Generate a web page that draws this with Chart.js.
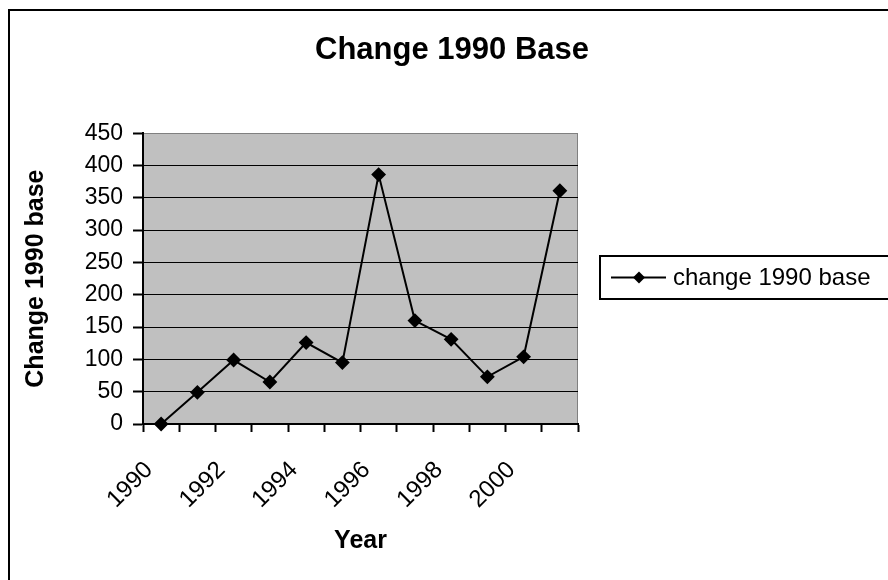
<!DOCTYPE html>
<html>
<head>
<meta charset="utf-8">
<script src="https://cdn.jsdelivr.net/npm/chart.js"></script>
<style>
  html, body { margin: 0; padding: 0; background: #fff; }
  #wrap { width: 888px; height: 580px; }
</style>
</head>
<body>
<div id="wrap"><canvas id="grafico" width="888" height="580"></canvas></div>
<script>
const years = ["1990", "1991", "1992", "1993", "1994", "1995", "1996", "1997", "1998", "1999", "2000", "2001"];
const change = [0, 49, 99, 65, 126, 95, 386, 160, 131, 73, 104, 361];
const yTicks = [0, 50, 100, 150, 200, 250, 300, 350, 400, 450];
const serieName = "change 1990 base";

const FONT = "'Liberation Sans', Arial, sans-serif";
Chart.defaults.font.family = FONT;
Chart.defaults.color = "#000";

// fondo gris del area de trazado + marco exterior
const fondo = {
  id: "fondo",
  beforeDraw(chart) {
    const { ctx, chartArea: a } = chart;
    ctx.save();
    ctx.fillStyle = "#fff";
    ctx.fillRect(0, 0, chart.width, chart.height);
    ctx.strokeStyle = "#000";
    ctx.lineWidth = 2;
    ctx.strokeRect(9, 10, 900, 600);
    ctx.fillStyle = "#c0c0c0";
    ctx.fillRect(a.left, a.top, a.right - a.left, a.bottom - a.top);
    ctx.strokeStyle = "#808080";
    ctx.lineWidth = 1;
    ctx.beginPath();
    ctx.moveTo(a.right - 0.5, a.top);
    ctx.lineTo(a.right - 0.5, a.bottom);
    ctx.stroke();
    ctx.restore();
  },
};

// leyenda estilo Excel (linea + rombo, con recuadro)
const leyenda = {
  id: "leyenda",
  afterDraw(chart) {
    const { ctx } = chart;
    const x = 600, y = 256, h = 43;
    ctx.save();
    ctx.strokeStyle = "#000";
    ctx.lineWidth = 2;
    ctx.strokeRect(x, y, 300, h);
    const cy = y + h / 2;
    ctx.beginPath();
    ctx.moveTo(x + 11, cy);
    ctx.lineTo(x + 66, cy);
    ctx.stroke();
    ctx.fillStyle = "#000";
    ctx.beginPath();
    ctx.moveTo(x + 39, cy - 6);
    ctx.lineTo(x + 45, cy);
    ctx.lineTo(x + 39, cy + 6);
    ctx.lineTo(x + 33, cy);
    ctx.closePath();
    ctx.fill();
    ctx.font = "24px " + FONT;
    ctx.textBaseline = "middle";
    ctx.textAlign = "left";
    ctx.fillText(chart.data.datasets[0].label, x + 73, cy + 1);
    ctx.restore();
  },
};

new Chart(document.getElementById("grafico"), {
  type: "line",
  data: {
    labels: years,
    datasets: [
      {
        label: serieName,
        data: change,
        borderColor: "#000",
        backgroundColor: "#000",
        borderWidth: 2,
        pointStyle: "rectRot",
        pointRadius: 6,
        pointHoverRadius: 6,
        pointBackgroundColor: "#000",
        pointBorderColor: "#000",
        tension: 0,
        clip: false,
        yAxisID: "y",
      },
    ],
  },
  options: {
    responsive: false,
    animation: false,
    layout: { padding: { left: 16, right: 0, top: 0, bottom: 0 } },
    plugins: {
      legend: { display: false },
      tooltip: { enabled: false },
      title: {
        display: true,
        text: "Change 1990 Base",
        color: "#000",
        font: { size: 31, weight: "bold", family: FONT },
        padding: { top: 32, bottom: 64 },
      },
    },
    scales: {
      x: {
        type: "category",
        offset: true,
        grid: {
          offset: true,
          drawOnChartArea: false,
          drawTicks: true,
          tickLength: 8,
          tickWidth: 2,
          tickColor: "#000",
          color: "#000",
        },
        border: { display: true, color: "#000", width: 2 },
        ticks: {
          autoSkip: false,
          minRotation: 45,
          maxRotation: 45,
          padding: 24,
          labelOffset: -12,
          font: { size: 24 },
          color: "#000",
          callback: (v, i) => (i % 2 === 0 ? years[i] : ""),
        },
        title: {
          display: true,
          text: "Year",
          color: "#000",
          font: { size: 25, weight: "bold" },
          padding: { top: 0, bottom: 24 },
        },
        afterFit(scale) {
          scale.height = 156;
        },
      },
      y: {
        min: 0,
        max: 450,
        afterBuildTicks(scale) {
          scale.ticks = yTicks.map((v) => ({ value: v }));
        },
        grid: {
          drawTicks: true,
          tickLength: 10,
          tickWidth: 2,
          tickColor: "#000",
          lineWidth: 1,
          color: (c) => (c.tick && c.tick.value === 450 ? "#808080" : "#000"),
        },
        border: { display: true, color: "#000", width: 2 },
        ticks: {
          padding: 10,
          font: { size: 23 },
          color: "#000",
        },
        title: {
          display: true,
          text: "Change 1990 base",
          color: "#000",
          font: { size: 25, weight: "bold" },
          padding: { top: 5, bottom: 0 },
        },
        afterFit(scale) {
          scale.width = 127;
        },
      },
      // eje vacio a la derecha: reserva el hueco de la leyenda
      espacio: {
        position: "right",
        display: true,
        grid: { display: false, drawTicks: false },
        border: { display: false },
        ticks: { display: false },
        afterFit(scale) {
          scale.width = 310;
        },
      },
    },
  },
  plugins: [fondo, leyenda],
});
</script>
</body>
</html>
